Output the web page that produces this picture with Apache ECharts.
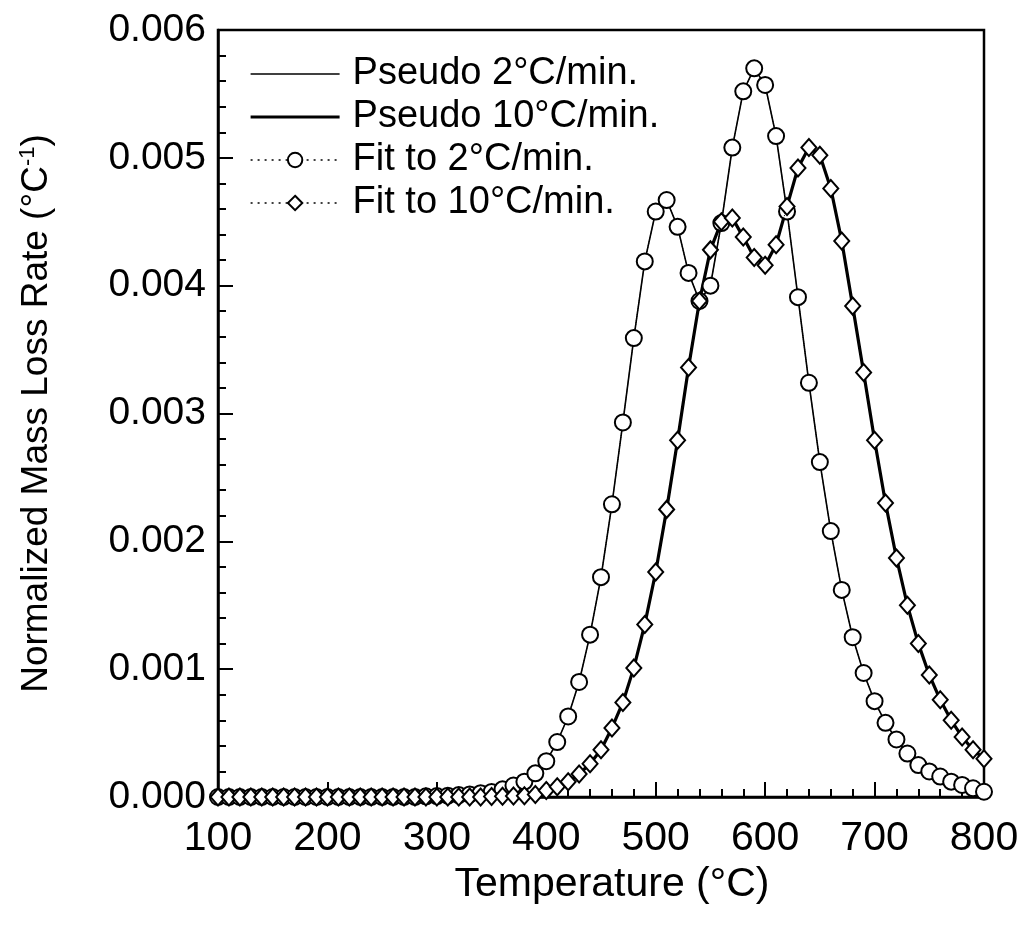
<!DOCTYPE html>
<html>
<head>
<meta charset="utf-8">
<script src="https://cdn.jsdelivr.net/npm/echarts@6/dist/echarts.min.js"></script>
<style>
html,body{margin:0;padding:0;background:#fff;}
#chart{width:1022px;height:932px;}
</style>
</head>
<body>
<div id="chart"></div>
<script>
// Temperature (°C)
const temps = [100,110,120,130,140,150,160,170,180,190,200,210,220,230,240,250,260,270,280,290,
  300,310,320,330,340,350,360,370,380,390,400,410,420,430,440,450,460,470,480,490,
  500,510,520,530,540,550,560,570,580,590,600,610,620,630,640,650,660,670,680,690,
  700,710,720,730,740,750,760,770,780,790,800];

// Normalized mass loss rate, 2 °C/min (°C^-1)
const rate2 = [0,0,0,0,0,0,0,0,0,0,0,0,0,0,0,0,0,0,0,0.000005,
  0.000007,0.00001,0.000015,0.00002,0.00003,0.00004,0.00006,0.00009,0.00012,0.000185,
  0.00028,0.00043,0.00063,0.00090,0.00127,0.00172,0.00229,0.00293,0.00359,0.00419,
  0.00458,0.00467,0.00446,0.00410,0.00388,0.00400,0.00449,0.00508,0.00552,0.00570,
  0.00557,0.00517,0.00458,0.00391,0.00324,0.00262,0.00208,0.00162,0.00125,0.00097,
  0.00075,0.00058,0.00045,0.00034,0.00025,0.00020,0.00016,0.00012,0.000094,0.000068,0.000041];

// Normalized mass loss rate, 10 °C/min (°C^-1)
const rate10 = [0,0,0,0,0,0,0,0,0,0,0,0,0,0,0,0,0,0,0,0,
  0,0,0,0,0,0.000003,0.000005,0.000008,0.00001,0.00002,
  0.00005,0.00008,0.00012,0.00018,0.00026,0.00037,0.00054,0.00074,0.00101,0.00135,
  0.00176,0.00225,0.00279,0.00336,0.00388,0.00428,0.00450,0.00453,0.00438,0.00422,
  0.00416,0.00432,0.00462,0.00492,0.00508,0.00502,0.00476,0.00435,0.00384,0.00332,
  0.00279,0.00230,0.00187,0.00150,0.00120,0.000955,0.00076,0.00060,0.00047,0.00037,0.00030];

const xTicks = [100,200,300,400,500,600,700,800];
const yTicks = ['0.000','0.001','0.002','0.003','0.004','0.005','0.006'];

const names = ['Pseudo 2°C/min.','Pseudo 10°C/min.','Fit to 2°C/min.','Fit to 10°C/min.'];

const pts2 = temps.map((t,i)=>[t, rate2[i]]);
const pts10 = temps.map((t,i)=>[t, rate10[i]]);

const FONT = '"Liberation Sans", Arial, Helvetica, sans-serif';

const chart = echarts.init(document.getElementById('chart'), null, {renderer:'canvas'});
chart.setOption({
  backgroundColor:'#fff',
  animation:false,
  grid:{left:218, right:38, top:30, bottom:135, show:true, borderColor:'#000', borderWidth:2.5, backgroundColor:'transparent'},
  legend:{
    orient:'vertical', left:249, top:55, padding:0,
    itemWidth:89, itemHeight:18, itemGap:5,
    selectedMode:false,
    textStyle:{fontFamily:FONT, fontSize:38, color:'#000', padding:[0,0,0,8]},
    data:[
      {name:names[0], itemStyle:{opacity:0}, lineStyle:{width:1.6, type:'solid', color:'#000'}},
      {name:names[1], itemStyle:{opacity:0}, lineStyle:{width:3.2, type:'solid', color:'#000'}},
      {name:names[2], lineStyle:{width:1.5, type:[2,5], color:'#000'}},
      {name:names[3], lineStyle:{width:1.5, type:[2,5], color:'#000'}}
    ]
  },
  xAxis:{
    type:'value', min:100, max:800, interval:100,
    name:'Temperature (°C)', nameLocation:'middle', nameGap:63,
    nameTextStyle:{fontFamily:FONT, fontSize:41, color:'#000', padding:[0,0,0,22]},
    axisLine:{show:true, onZero:false, lineStyle:{color:'#000', width:2.5}},
    axisTick:{show:true, inside:true, length:15, lineStyle:{color:'#000', width:2}},
    minorTick:{show:true, splitNumber:5, length:8, lineStyle:{color:'#000', width:2}},
    splitLine:{show:false},
    axisLabel:{fontFamily:FONT, fontSize:41, color:'#000', margin:21,
      formatter:v=> xTicks.indexOf(v)>=0 ? String(v) : ''}
  },
  yAxis:{
    type:'value', min:0, max:0.006, interval:0.001,
    name:'{n|Normalized Mass Loss Rate (°C}{s|-1}{n|)}', nameLocation:'middle', nameGap:161,
    nameTextStyle:{fontFamily:FONT, color:'#000',
      rich:{n:{fontFamily:FONT, fontSize:37, color:'#000', lineHeight:40},
            s:{fontFamily:FONT, fontSize:22, color:'#000', verticalAlign:'top', lineHeight:40}}},
    axisLine:{show:true, onZero:false, lineStyle:{color:'#000', width:2.5}},
    axisTick:{show:true, inside:true, length:15, lineStyle:{color:'#000', width:2}},
    minorTick:{show:true, splitNumber:5, length:8, lineStyle:{color:'#000', width:2}},
    splitLine:{show:false},
    axisLabel:{fontFamily:FONT, fontSize:39, color:'#000', margin:12,
      formatter:v=> yTicks[Math.round(v*1000)]}
  },
  series:[
    {name:names[0], type:'line', data:pts2, symbol:'none', z:2,
     lineStyle:{color:'#000', width:1.6}, itemStyle:{color:'#000'}},
    {name:names[1], type:'line', data:pts10, symbol:'none', z:2,
     lineStyle:{color:'#000', width:3.2}, itemStyle:{color:'#000'}},
    {name:names[2], type:'line', data:pts2, symbol:'circle', symbolSize:16, z:4,
     lineStyle:{color:'#000', width:1, type:'dotted'},
     itemStyle:{color:'#fff', borderColor:'#000', borderWidth:2}},
    {name:names[3], type:'line', data:pts10, symbol:'diamond', symbolSize:[15,17], z:5,
     lineStyle:{color:'#000', width:1, type:'dotted'},
     itemStyle:{color:'#fff', borderColor:'#000', borderWidth:2}}
  ]
});
</script>
</body>
</html>
